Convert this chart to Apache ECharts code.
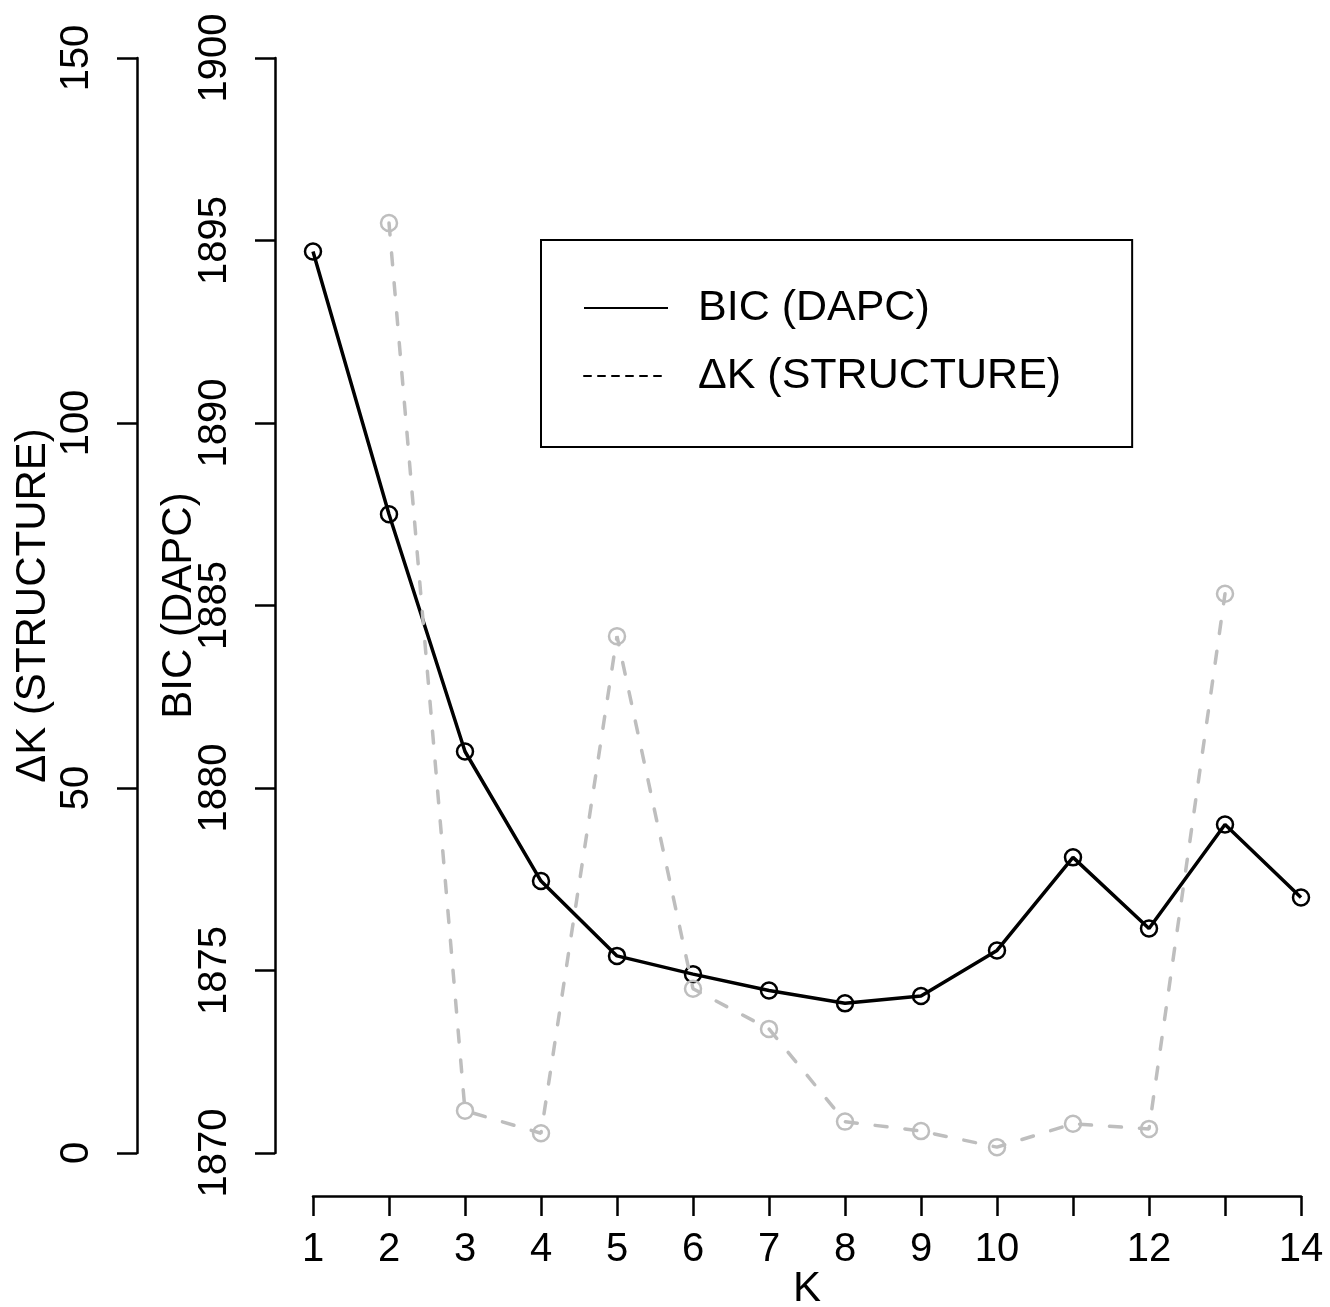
<!DOCTYPE html>
<html>
<head>
<meta charset="utf-8">
<script src="https://cdn.jsdelivr.net/npm/echarts@6/dist/echarts.min.js"></script>
<style>
html,body{margin:0;padding:0;background:#fff;}
#chart{width:1330px;height:1307px;}
</style>
</head>
<body>
<div id="chart"></div>
<script>
// ---- data ----
const kValues = [1,2,3,4,5,6,7,8,9,10,11,12,13,14];
const bicValues = [1894.7,1887.5,1881.0,1877.45,1875.4,1874.9,1874.45,1874.1,1874.3,1875.55,1878.1,1876.15,1879.0,1877.0];
const deltaKValues = [null,127.4,5.8,2.7,70.8,22.5,17.0,4.3,3.0,0.8,4.0,3.3,76.6,null];
const xTickLabels = ['1','2','3','4','5','6','7','8','9','10','','12','','14'];
const bicTicks = [1870,1875,1880,1885,1890,1895,1900];
const dkTicks = [0,50,100,150];
const seriesNames = ['BIC (DAPC)','\u0394K (STRUCTURE)'];

const FONT = '"Liberation Sans", Arial, Helvetica, sans-serif';
const FS = 40;
const FS_T = 42;
const FS_L = 43;

const bicData = kValues.map((k,i)=>[k,bicValues[i]]);
const dkData = kValues.map((k,i)=>[k,deltaKValues[i]]);

const chart = echarts.init(document.getElementById('chart'), null, {renderer:'canvas'});
const axisCommon = {
  axisLine:{show:true,onZero:false,lineStyle:{color:'#000',width:2.5}},
  axisTick:{show:true,length:20,lineStyle:{color:'#000',width:2.5}},
  splitLine:{show:false},
  nameMoveOverlap:false,
  nameTextStyle:{fontFamily:FONT,fontSize:FS_T,color:'#000'}
};
chart.setOption({
  animation:false,
  backgroundColor:'#fff',
  textStyle:{fontFamily:FONT},
  grid:{left:313,right:29,top:58,bottom:154,containLabel:false,outerBoundsMode:'none'},
  legend:{
    left:541, top:240, orient:'vertical', selectedMode:false,
    padding:[45,71,48,42], borderColor:'#000', borderWidth:2,
    itemWidth:84, itemHeight:1, itemGap:22,
    textStyle:{fontFamily:FONT,fontSize:FS_L,color:'#000',lineHeight:46,padding:[0,0,0,25]},
    data:[
      {name:seriesNames[0], itemStyle:{opacity:0}, lineStyle:{color:'#000',width:2,type:'solid'}},
      {name:seriesNames[1], itemStyle:{opacity:0}, lineStyle:{color:'#000',width:2,type:[7,7]}}
    ]
  },
  xAxis:Object.assign({}, axisCommon, {
    type:'value', min:1, max:14, interval:1, offset:43,
    name:'K', nameLocation:'middle', nameGap:72,
    axisLabel:{fontFamily:FONT,fontSize:FS,color:'#000',margin:34,
      formatter:(v)=>xTickLabels[kValues.indexOf(v)] ?? ''}
  }),
  yAxis:[
    Object.assign({}, axisCommon, {
      type:'value', min:bicTicks[0], max:bicTicks[bicTicks.length-1], interval:5,
      position:'left', offset:38,
      name:seriesNames[0], nameLocation:'middle', nameRotate:90, nameGap:75,
      axisLabel:{fontFamily:FONT,fontSize:FS,color:'#000',rotate:90,margin:40,
        formatter:(v)=>String(v)}
    }),
    Object.assign({}, axisCommon, {
      type:'value', min:dkTicks[0], max:dkTicks[dkTicks.length-1], interval:50,
      position:'left', offset:176,
      name:seriesNames[1], nameLocation:'middle', nameRotate:90, nameGap:83,
      axisLabel:{fontFamily:FONT,fontSize:FS,color:'#000',rotate:90,margin:40,
        formatter:(v)=>String(v)}
    })
  ],
  series:[
    {
      name:seriesNames[0], type:'line', yAxisIndex:0, data:bicData,
      symbol:'circle', symbolSize:16,
      itemStyle:{color:'rgba(0,0,0,0)',borderColor:'#000',borderWidth:2.5},
      lineStyle:{color:'#000',width:3.5},
      z:2
    },
    {
      name:seriesNames[1], type:'line', yAxisIndex:1, data:dkData,
      symbol:'circle', symbolSize:16, connectNulls:false,
      itemStyle:{color:'rgba(0,0,0,0)',borderColor:'#BEBEBE',borderWidth:2.5},
      lineStyle:{color:'#BEBEBE',width:3.5,type:[12,18],cap:'round'},
      z:3
    }
  ]
});
</script>
</body>
</html>
